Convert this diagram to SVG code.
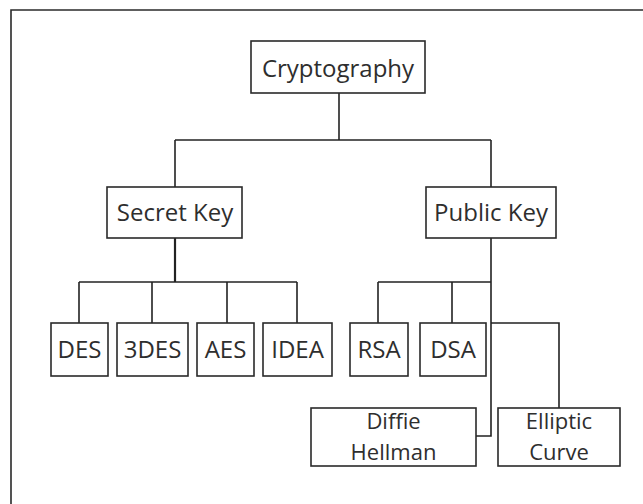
<svg xmlns="http://www.w3.org/2000/svg" width="643" height="504" viewBox="0 0 643 504">
  <style>
    .box { fill: #ffffff; stroke: #2a2a2a; stroke-width: 1.6; }
    .lbl { font-family: "Open Sans", "DejaVu Sans", sans-serif; font-size: 24px; fill: #2e2e2e; text-anchor: middle; }
    .lbl2 { font-size: 22px; }
    .wire { fill: none; stroke: #222222; stroke-width: 1.6; }
    .frame { fill: none; stroke: #2a2a2a; stroke-width: 1.6; }
  </style>
  <rect width="643" height="504" fill="#ffffff"/>
  <!-- outer frame (left and top edges) -->
  <path class="frame" d="M11 504 V10 H643"/>

  <g id="connectors">
    <path class="wire" d="M339 93 V140"/>
    <path class="wire" d="M175 140 H491"/>
    <path class="wire" d="M175 140 V187"/>
    <path class="wire" d="M491 140 V187"/>
    <path class="wire" d="M175 238 V282" style="stroke-width:2.2"/>
    <path class="wire" d="M79 282 H297"/>
    <path class="wire" d="M79 282 V323 M152 282 V323 M227 282 V323 M297 282 V323"/>
    <path class="wire" d="M491 238 V436 H476"/>
    <path class="wire" d="M378 282 H491 M378 282 V323 M452 282 V323"/>
    <path class="wire" d="M491 323 H559 V408"/>
  </g>

  <g id="cryptography">
    <rect class="box" x="251" y="41" width="174" height="52"/>
    <text class="lbl" x="338" y="77">Cryptography</text>
  </g>
  <g id="secret-key">
    <rect class="box" x="107" y="187" width="135" height="51"/>
    <text class="lbl" x="175" y="221">Secret Key</text>
  </g>
  <g id="public-key">
    <rect class="box" x="426" y="187" width="130" height="51"/>
    <text class="lbl" x="491" y="221">Public Key</text>
  </g>
  <g id="des">
    <rect class="box" x="51" y="323" width="57" height="53"/>
    <text class="lbl" x="79.5" y="358">DES</text>
  </g>
  <g id="3des">
    <rect class="box" x="117" y="323" width="71" height="53"/>
    <text class="lbl" x="152.5" y="358">3DES</text>
  </g>
  <g id="aes">
    <rect class="box" x="197" y="323" width="57" height="53"/>
    <text class="lbl" x="225.5" y="358">AES</text>
  </g>
  <g id="idea">
    <rect class="box" x="263" y="323" width="69" height="53"/>
    <text class="lbl" x="297.5" y="358">IDEA</text>
  </g>
  <g id="rsa">
    <rect class="box" x="350" y="323" width="58" height="53"/>
    <text class="lbl" x="379" y="358">RSA</text>
  </g>
  <g id="dsa">
    <rect class="box" x="420" y="323" width="66" height="53"/>
    <text class="lbl" x="453" y="358">DSA</text>
  </g>
  <g id="diffie-hellman">
    <rect class="box" x="311" y="408" width="165" height="58"/>
    <text class="lbl lbl2" x="393.5" y="429">Diffie</text>
    <text class="lbl lbl2" x="393.5" y="460">Hellman</text>
  </g>
  <g id="elliptic-curve">
    <rect class="box" x="498" y="408" width="122" height="58"/>
    <text class="lbl lbl2" x="559" y="429">Elliptic</text>
    <text class="lbl lbl2" x="559" y="460">Curve</text>
  </g>
</svg>
